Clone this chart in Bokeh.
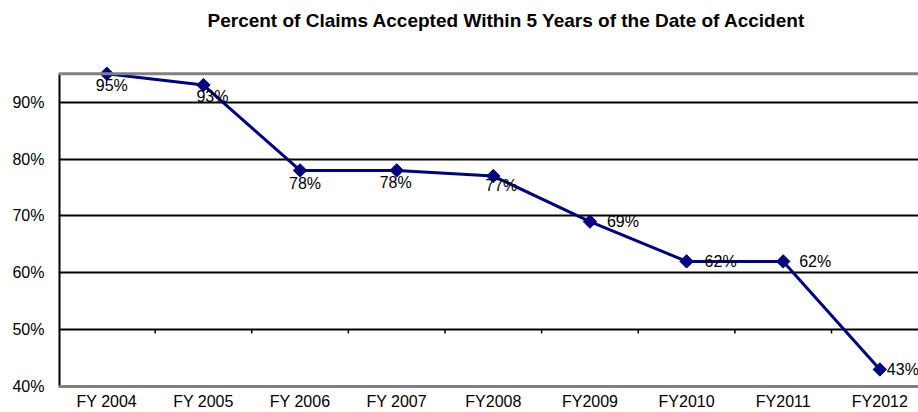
import math
from bokeh.plotting import figure
from bokeh.models import Range1d, FixedTicker, Span, ColumnDataSource
from bokeh.core.properties import value
from bokeh.embed import file_html
from bokeh.resources import INLINE

# ---- data ----
title = "Percent of Claims Accepted Within 5 Years of the Date of Accident"
years = ["FY 2004", "FY 2005", "FY 2006", "FY 2007", "FY2008",
         "FY2009", "FY2010", "FY2011", "FY2012"]
pct = [95, 93, 78, 78, 77, 69, 62, 62, 43]
y_ticks = [40, 50, 60, 70, 80, 90]
y_min, y_max = 40, 95

# ---- label placement (style) ----
label_align = ["center", "center", "center", "center", "center",
               "left", "left", "left", "left"]
label_dx = [5, 9, 5, -1, 8, 17, 18, 16, 7]
label_dy = [12, 11, 13, 12, 9, 0, 0, 0, 0]

FONT = "Liberation Sans"
NAVY = "#000080"
GRAY = "#808080"

xs = [i + 0.5 for i in range(len(years))]
labels = [f"{v}%" for v in pct]

# frame runs from y=30 to y=387; the visible plot box is drawn from y_min to y_max
p = figure(width=918, height=412, output_backend="svg", toolbar_location=None,
           x_range=Range1d(0, 8.9), y_range=Range1d(y_min, 102.6),
           min_border_left=58, min_border_right=0, min_border_top=30,
           min_border_bottom=25)
p.outline_line_color = None
p.background_fill_color = "white"
p.border_fill_color = "white"

# title
p.title.text = title
p.title.text_font = FONT
p.title.text_font_size = "19px"
p.title.text_font_style = "bold"
p.title.text_color = "black"
p.title.align = "left"
p.title.vertical_align = "bottom"
p.title.offset = 149
p.title.standoff = 0

# y axis (line drawn separately so that it stops at the plot box top)
p.yaxis.ticker = FixedTicker(ticks=y_ticks)
p.yaxis.major_label_overrides = {t: f"{t}%" for t in y_ticks}
p.yaxis.major_label_text_font = FONT
p.yaxis.major_label_text_font_size = "16px"
p.yaxis.major_label_text_color = "black"
p.yaxis.major_tick_out = 0
p.yaxis.major_tick_in = 0
p.yaxis.minor_tick_out = 0
p.yaxis.minor_tick_in = 0
p.yaxis.major_label_standoff = 14
p.yaxis.axis_line_color = None

# x axis (labels at category centers)
p.xaxis.ticker = FixedTicker(ticks=xs)
p.xaxis.major_label_overrides = {x: y for x, y in zip(xs, years)}
p.xaxis.major_label_text_font = FONT
p.xaxis.major_label_text_font_size = "16px"
p.xaxis.major_label_text_color = "black"
p.xaxis.major_tick_out = 0
p.xaxis.major_tick_in = 0
p.xaxis.minor_tick_out = 0
p.xaxis.minor_tick_in = 0
p.xaxis.major_label_standoff = 6
p.xaxis.axis_line_color = GRAY
p.xaxis.axis_line_width = 3

# grid
p.xgrid.visible = False
p.ygrid.ticker = FixedTicker(ticks=[t for t in y_ticks if t > y_ticks[0]])
p.ygrid.grid_line_color = "black"
p.ygrid.grid_line_width = 2

# left axis line and top border line of the plot box
p.segment(x0=[0], x1=[0], y0=[y_min], y1=[y_max], line_color="black", line_width=4)
p.add_layout(Span(location=y_max, dimension="width", line_color=GRAY, line_width=3))

# category boundary tick marks on the 50% line (axis crossing)
bounds = [i + 1.0 for i in range(len(years) - 1)]
p.segment(x0=bounds, x1=bounds, y0=[50] * len(bounds), y1=[49.3] * len(bounds),
          line_color="black", line_width=1.5)

# data line + markers
src = ColumnDataSource(dict(x=xs, y=pct, label=labels))
p.line("x", "y", source=src, line_color=NAVY, line_width=3)
p.scatter("x", "y", source=src, marker="square", angle=math.pi / 4, size=9.5,
          fill_color=NAVY, line_color=NAVY)

# data labels
for align in ("center", "left"):
    idx = [i for i, a in enumerate(label_align) if a == align]
    s = ColumnDataSource(dict(
        x=[xs[i] for i in idx], y=[pct[i] for i in idx],
        t=[labels[i] for i in idx],
        dx=[label_dx[i] for i in idx], dy=[label_dy[i] for i in idx]))
    p.text("x", "y", text="t", source=s, text_font=value(FONT), text_font_size="16px",
           text_align=align, text_baseline="middle", x_offset="dx", y_offset="dy",
           text_color="black")

open("out.html", "w").write(file_html(p, INLINE))
